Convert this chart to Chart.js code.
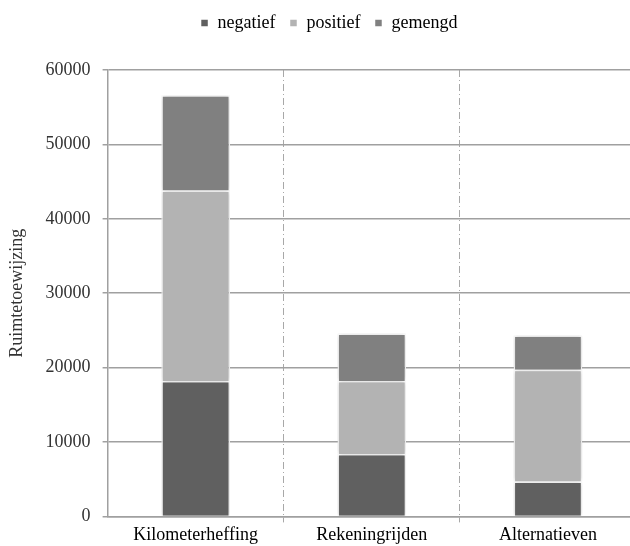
<!DOCTYPE html>
<html>
<head>
<meta charset="utf-8">
<script src="https://cdn.jsdelivr.net/npm/chart.js@4"></script>
<style>
  html, body { margin: 0; padding: 0; background: #fff; overflow: hidden; }
  #wrap { width: 630px; height: 546px; overflow: hidden; }
</style>
</head>
<body>
<div id="wrap"><canvas id="myChart" width="640" height="546"></canvas></div>
<script>
// categorieen en waarden per reactietype
var categories = ['Kilometerheffing', 'Rekeningrijden', 'Alternatieven'];
var negatief = [18200, 8400, 4700];
var positief = [25600, 9800, 15000];
var gemengd = [12800, 6400, 4600];
var yTicks = [0, 10000, 20000, 30000, 40000, 50000, 60000];

var serif = "'Liberation Serif', 'Times New Roman', serif";

// zachte schaduw rond de staven
var barShadow = {
  id: 'barShadow',
  beforeDatasetsDraw: function(chart) {
    var ctx = chart.ctx;
    ctx.save();
    ctx.shadowColor = 'rgba(0,0,0,0.22)';
    ctx.shadowBlur = 5;
  },
  afterDatasetsDraw: function(chart) {
    chart.ctx.restore();
  }
};

// extra ruimte onder de legenda, en legenda iets naar rechts
var legendGap = {
  id: 'legendGap',
  beforeInit: function(chart) {
    var fit = chart.legend.fit;
    chart.legend.fit = function() {
      fit.bind(chart.legend)();
      this.height += 28;
    };
  },
  afterLayout: function(chart) {
    chart.legend.left += 18;
  }
};

var ctx = document.getElementById('myChart').getContext('2d');
var myChart = new Chart(ctx, {
  type: 'bar',
  data: {
    labels: categories,
    datasets: [
      { label: 'negatief', data: negatief, backgroundColor: '#606060' },
      { label: 'positief', data: positief, backgroundColor: '#b3b3b3' },
      { label: 'gemengd', data: gemengd, backgroundColor: '#808080' }
    ]
  },
  options: {
    responsive: false,
    animation: false,
    datasets: {
      bar: {
        borderColor: '#ffffff',
        borderWidth: 1.5,
        barPercentage: 0.39,
        categoryPercentage: 1
      }
    },
    layout: { padding: { top: 0, right: 4, bottom: -2, left: 4 } },
    plugins: {
      tooltip: { enabled: false },
      legend: {
        position: 'top',
        labels: {
          color: '#000',
          boxWidth: 8,
          boxHeight: 8,
          padding: 14,
          font: { family: serif, size: 18 }
        }
      }
    },
    scales: {
      x: {
        stacked: true,
        offset: true,
        grid: {
          offset: true,
          color: function(c) { return c.index === 0 ? 'rgba(0,0,0,0)' : '#a8a8a8'; },
          lineWidth: 1,
          tickLength: 6
        },
        border: { display: true, color: '#a0a0a0', width: 1.5, dash: [7, 3, 1, 3] },
        ticks: { color: '#000', padding: 2, font: { family: serif, size: 18 } }
      },
      y: {
        stacked: true,
        min: 0,
        max: 60000,
        afterBuildTicks: function(axis) {
          axis.ticks = yTicks.map(function(v) { return { value: v }; });
        },
        grid: { color: '#a0a0a0', lineWidth: 1.5, tickLength: 5 },
        border: { display: true, color: '#a0a0a0', width: 1.5 },
        ticks: {
          color: '#333',
          padding: 12,
          font: { family: serif, size: 18 },
          callback: function(v) { return String(v); }
        },
        title: {
          display: true,
          text: 'Ruimtetoewijzing',
          color: '#333',
          padding: { top: 2, bottom: 6 },
          font: { family: serif, size: 18 }
        }
      }
    }
  },
  plugins: [barShadow, legendGap]
});
</script>
</body>
</html>
